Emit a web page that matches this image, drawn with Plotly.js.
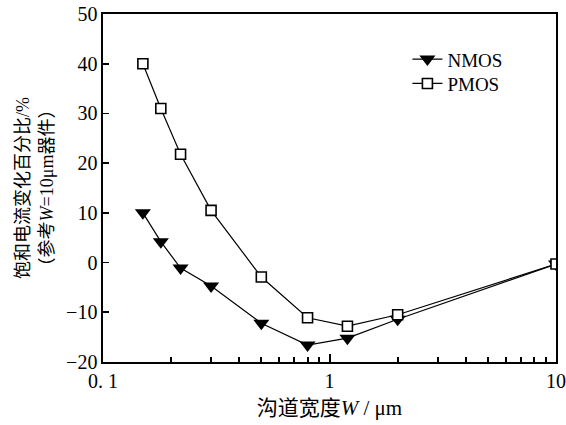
<!DOCTYPE html>
<html>
<head>
<meta charset="utf-8">
<script src="https://cdn.plot.ly/plotly-3.0.1.min.js"></script>
<style>html,body{margin:0;padding:0;background:#fff;}#chart{width:566px;height:425px;}</style>
</head>
<body>
<div id="chart"></div>
<script>
const widths = [0.15, 0.18, 0.22, 0.3, 0.5, 0.8, 1.2, 2, 10];
const nmos = [10.0, 4.2, -1.1, -4.7, -12.2, -16.6, -15.2, -11.4, -0.3];
const pmos = [40.0, 31.0, 21.8, 10.5, -2.9, -11.1, -12.8, -10.5, -0.3];
const xTickVals = [0.1, 1, 10];
const xTickText = ['0.\u00a01', '1', '10'];
const xMinorVals = [0.2,0.3,0.4,0.5,0.6,0.7,0.8,0.9,2,3,4,5,6,7,8,9];
const yTickVals = [-20, -10, 0, 10, 20, 30, 40, 50];

const serif = 'Liberation Serif, Times New Roman, Noto Sans CJK SC, serif';
const traces = [
  {x: widths, y: nmos, name: 'NMOS', type: 'scatter', mode: 'lines+markers', legend: 'legend',
   line: {color: '#000', width: 1.2},
   marker: {symbol: 'triangle-down', size: 14, color: '#000', line: {width: 0}}},
  {x: widths, y: pmos, name: 'PMOS', type: 'scatter', mode: 'lines+markers', legend: 'legend2',
   line: {color: '#000', width: 1.2},
   marker: {symbol: 'square', size: 10, color: '#fff', line: {color: '#000', width: 1.6}}}
];
const legendFont = {family: serif, size: 19, color: '#000'};
const layout = {
  width: 566, height: 425,
  margin: {l: 103, r: 10, t: 14, b: 63},
  paper_bgcolor: '#fff', plot_bgcolor: '#fff',
  font: {family: serif, size: 20, color: '#000'},
  showlegend: true,
  legend: {x: 0.672, y: 0.870, xanchor: 'left', yanchor: 'middle', bgcolor: 'rgba(0,0,0,0)', font: legendFont},
  legend2: {x: 0.672, y: 0.800, xanchor: 'left', yanchor: 'middle', bgcolor: 'rgba(0,0,0,0)', font: legendFont},
  xaxis: {type: 'log', range: [-1, 1], tickmode: 'array', tickvals: xTickVals, ticktext: xTickText,
          ticks: 'inside', ticklen: 8, tickwidth: 2, tickcolor: '#000',
          minor: {tickmode: 'array', tickvals: xMinorVals, ticks: 'inside', ticklen: 5, tickwidth: 2, tickcolor: '#000', showgrid: false},
          showline: true, linecolor: '#000', linewidth: 1.6, mirror: true,
          showgrid: false, zeroline: false,
          tickfont: {family: serif, size: 20},
          title: {text: '沟道宽度<i>W</i> / μm', font: {family: serif, size: 21}, standoff: 10}},
  yaxis: {range: [-20, 50], tickmode: 'array', tickvals: yTickVals,
          ticks: 'inside', ticklen: 6, tickwidth: 1.8, tickcolor: '#000',
          showline: true, linecolor: '#000', linewidth: 1.6, mirror: true,
          showgrid: false, zeroline: false,
          tickfont: {family: serif, size: 20},
          title: {text: '饱和电流变化百分比/%<br>（参考<i>W</i>=10μm器件）', font: {family: serif, size: 18}, standoff: 8}}
};
Plotly.newPlot('chart', traces, layout, {displayModeBar: false, staticPlot: true});
</script>
</body>
</html>
